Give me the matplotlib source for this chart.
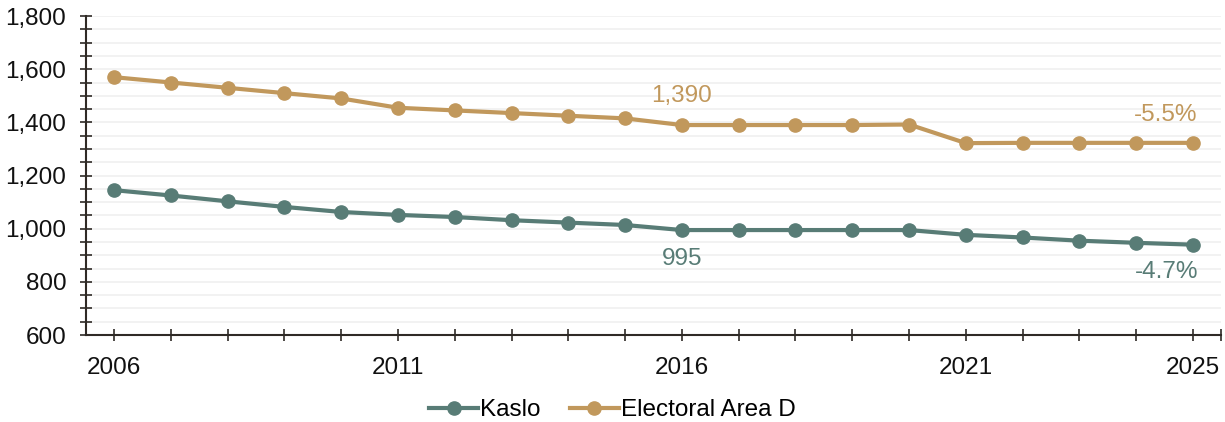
import matplotlib.pyplot as plt
from matplotlib.ticker import MultipleLocator, FuncFormatter, FixedLocator

plt.rcParams['font.family'] = ['Liberation Sans', 'DejaVu Sans']

years = list(range(2006, 2026))
kaslo = [1145, 1125, 1103, 1082, 1063, 1052, 1044, 1032, 1023, 1014,
         995, 995, 995, 995, 995, 977, 967, 955, 947, 940]
area_d = [1570, 1550, 1530, 1510, 1490, 1455, 1445, 1435, 1425, 1415,
          1390, 1390, 1390, 1390, 1392, 1322, 1323, 1323, 1323, 1323]
year_labels = [2006, 2011, 2016, 2021, 2025]

kaslo_color = '#587c76'
area_d_color = '#c1985c'
axis_color = '#2f2a26'

fig = plt.figure(figsize=(12.25, 4.22), dpi=100)
ax = fig.add_axes([0.070, 0.206, 0.927, 0.756])

ax.plot(years, kaslo, color=kaslo_color, lw=3, marker='o', ms=9.5, label='Kaslo', zorder=3)
ax.plot(years, area_d, color=area_d_color, lw=3, marker='o', ms=9.5, label='Electoral Area D', zorder=3)

ax.set_xlim(2005.5, 2025.5)
ax.set_ylim(600, 1800)

ax.yaxis.set_major_locator(MultipleLocator(200))
ax.yaxis.set_minor_locator(MultipleLocator(50))
ax.yaxis.set_major_formatter(FuncFormatter(lambda v, p: f'{int(v):,}'))
ax.grid(axis='y', which='both', color='#efefef', lw=1.1, zorder=0)

ax.xaxis.set_major_locator(FixedLocator(year_labels))
ax.xaxis.set_minor_locator(FixedLocator(years + [2025.5]))
ax.set_xticklabels([str(y) for y in year_labels])

ax.tick_params(axis='both', which='both', direction='inout', length=8, width=1.2,
               color=axis_color, labelsize=17.5, labelcolor='#111111')
ax.tick_params(axis='y', which='major', pad=10)
ax.tick_params(axis='x', which='major', pad=12)

for s in ['top', 'right']:
    ax.spines[s].set_visible(False)
for s in ['left', 'bottom']:
    ax.spines[s].set_color(axis_color)
    ax.spines[s].set_linewidth(1.5)

# value annotations
i16 = years.index(2016)
ax.annotate(f'{area_d[i16]:,}', (years[i16], area_d[i16]), xytext=(0, 21), textcoords='offset points',
            ha='center', va='center', fontsize=17.5, color=area_d_color)
ax.annotate(f'{kaslo[i16]:,}', (years[i16], kaslo[i16]), xytext=(0, -21), textcoords='offset points',
            ha='center', va='center', fontsize=17.5, color=kaslo_color)
ax.annotate('-5.5%', (years[-1], area_d[-1]), xytext=(3, 20), textcoords='offset points',
            ha='right', va='center', fontsize=17.5, color=area_d_color)
ax.annotate('-4.7%', (years[-1], kaslo[-1]), xytext=(4, -20), textcoords='offset points',
            ha='right', va='center', fontsize=17.5, color=kaslo_color)

fig.legend(loc='lower center', bbox_to_anchor=(0.5, -0.05), ncol=2, frameon=False,
           fontsize=17.5, handlelength=2.0, handletextpad=0.1, columnspacing=1.2)

fig.savefig('out.png', dpi=100)
